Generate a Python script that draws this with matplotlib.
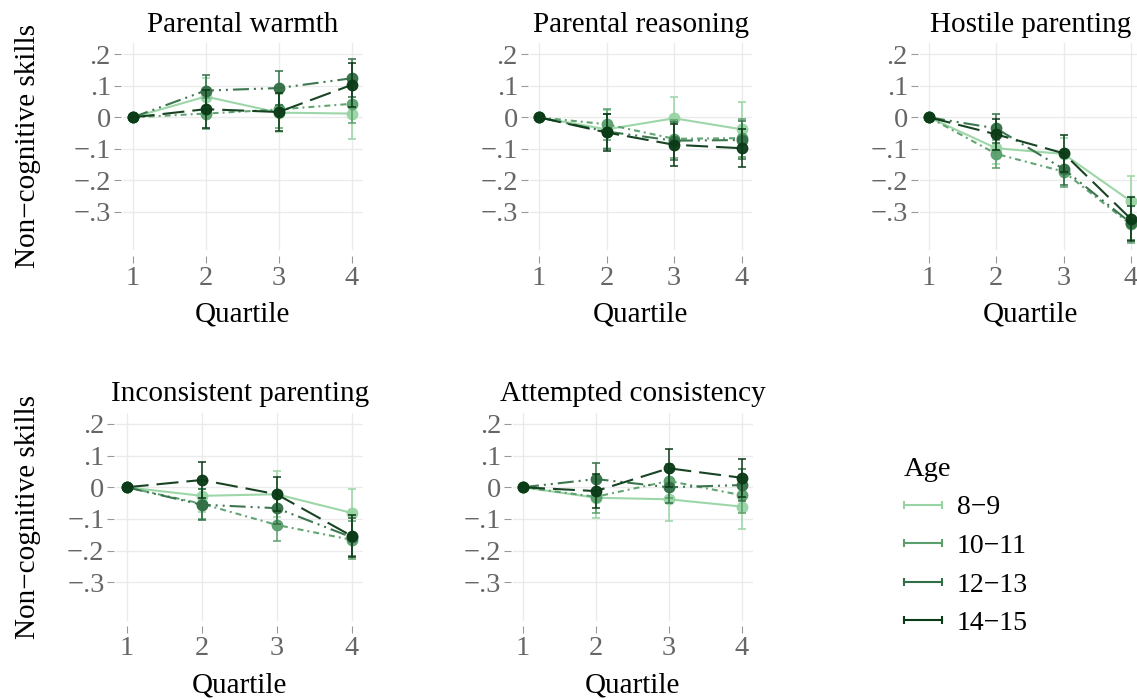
import numpy as np
import matplotlib
matplotlib.use("Agg")
import matplotlib.pyplot as plt
from matplotlib.lines import Line2D
from matplotlib.legend_handler import HandlerLine2D

plt.rcParams['font.family'] = ['Liberation Serif', 'DejaVu Serif']
plt.rcParams['lines.scale_dashes'] = False

quartiles = [1, 2, 3, 4]
ages = ["8\u22129", "10\u221211", "12\u221213", "14\u221215"]
titles = ["Parental warmth", "Parental reasoning", "Hostile parenting",
          "Inconsistent parenting", "Attempted consistency"]

# point estimates, one row per age group
warmth_est = [[0, 0.066, 0.015, 0.012],
              [0, 0.012, 0.025, 0.043],
              [0, 0.085, 0.093, 0.124],
              [0, 0.026, 0.017, 0.103]]
warmth_ci = [[0, 0.06, 0.06, 0.082],
             [0, 0.05, 0.06, 0.06],
             [0, 0.05, 0.055, 0.06],
             [0, 0.06, 0.06, 0.07]]

reasoning_est = [[0, -0.038, -0.003, -0.038],
                 [0, -0.022, -0.068, -0.066],
                 [0, -0.045, -0.074, -0.072],
                 [0, -0.048, -0.087, -0.098]]
reasoning_ci = [[0, 0.06, 0.068, 0.088],
                [0, 0.05, 0.06, 0.06],
                [0, 0.055, 0.06, 0.06],
                [0, 0.058, 0.067, 0.06]]

hostile_est = [[0, -0.098, -0.116, -0.266],
               [0, -0.116, -0.172, -0.34],
               [0, -0.035, -0.164, -0.335],
               [0, -0.054, -0.114, -0.322]]
hostile_ci = [[0, 0.05, 0.05, 0.08],
              [0, 0.045, 0.05, 0.06],
              [0, 0.045, 0.05, 0.055],
              [0, 0.05, 0.058, 0.07]]

inconsistent_est = [[0, -0.027, -0.022, -0.081],
                    [0, -0.052, -0.119, -0.166],
                    [0, -0.055, -0.066, -0.158],
                    [0, 0.023, -0.022, -0.154]]
inconsistent_ci = [[0, 0.05, 0.072, 0.074],
                   [0, 0.048, 0.05, 0.06],
                   [0, 0.048, 0.05, 0.06],
                   [0, 0.058, 0.054, 0.065]]

attempted_est = [[0, -0.033, -0.038, -0.061],
                 [0, -0.03, 0.02, -0.025],
                 [0, 0.026, 0.0, 0.007],
                 [0, -0.012, 0.06, 0.03]]
attempted_ci = [[0, 0.065, 0.068, 0.072],
                [0, 0.05, 0.055, 0.055],
                [0, 0.05, 0.05, 0.05],
                [0, 0.055, 0.06, 0.06]]

estimates = [warmth_est, reasoning_est, hostile_est, inconsistent_est, attempted_est]
cis = [warmth_ci, reasoning_ci, hostile_ci, inconsistent_ci, attempted_ci]

yticks = [0.2, 0.1, 0, -0.1, -0.2, -0.3]
ytick_labels = [".2", ".1", "0", "\u2212.1", "\u2212.2", "\u2212.3"]

colors = ["#98d4a3", "#5a9f6c", "#336f46", "#0b3a17"]
px = 1 / 1.389
dashes = [None,
          (6 * px, 4 * px, 2 * px, 4 * px),
          (16 * px, 5 * px, 2 * px, 5 * px, 2 * px, 5 * px),
          (22 * px, 8 * px)]

W, H = 1137, 699
fig = plt.figure(figsize=(W / 100, H / 100), dpi=100)

# panel rectangles in pixels: left, top, right, bottom
rects = [(122.7, 43, 362.7, 250),
         (529.7, 43, 751.9, 250),
         (919.8, 43, 1140.9, 250),
         (116.4, 412.6, 363, 620.5),
         (513, 412.6, 752.7, 620.5)]

for i, (l, t, r, b) in enumerate(rects):
    ax = fig.add_axes([l / W, 1 - b / H, (r - l) / W, (b - t) / H])
    for k in range(4):
        est = estimates[i][k]
        ci = cis[i][k]
        ax.errorbar(quartiles, est, yerr=ci, fmt='none', ecolor=colors[k],
                    elinewidth=1.1, capsize=3, capthick=1.1, zorder=2 + k)
        line, = ax.plot(quartiles, est, color=colors[k], lw=1.5, marker='o',
                        markersize=7.5, zorder=2 + k, alpha=0.95)
        if dashes[k] is not None:
            line.set_dashes(dashes[k])
    ax.set_xlim(0.863, 4.151)
    ax.set_ylim(-0.421, 0.236)
    ax.set_xticks(quartiles)
    ax.set_yticks(yticks)
    ax.set_yticklabels(ytick_labels)
    ax.grid(True, color='#ebebeb', lw=1)
    ax.set_axisbelow(True)
    for s in ax.spines.values():
        s.set_visible(False)
    ax.spines['left'].set_position(('outward', 1.5))
    ax.spines['bottom'].set_position(('outward', 4.3))
    ax.tick_params(axis='both', length=5, width=0.8, color='#999999',
                   labelcolor='#666666', labelsize=20.5)
    ax.tick_params(axis='y', pad=2)
    ax.tick_params(axis='x', pad=2)
    ax.set_title(titles[i], fontsize=21, pad=8)
    ax.set_xlabel("Quartile", fontsize=21, labelpad=8)
    if i in (0, 3):
        ax.set_ylabel("Non\u2212cognitive skills", fontsize=21)
        ax.yaxis.set_label_coords((41 - l) / (r - l), 0.5)

handles = [Line2D([0, 1], [0, 0], color=c, lw=1.5, marker='|', markersize=6,
                  markeredgewidth=1.5) for c in colors]
fig.legend(handles, ages, loc='upper left', bbox_to_anchor=(904 / W, 1 - 457 / H),
           title="Age", alignment='left', frameon=False, fontsize=20,
           title_fontsize=20.5, handlelength=1.35, handletextpad=0.55,
           labelspacing=0.47, numpoints=2, borderpad=0, borderaxespad=0,
           handler_map={Line2D: HandlerLine2D(marker_pad=0)})

fig.savefig("out.png", dpi=100)
